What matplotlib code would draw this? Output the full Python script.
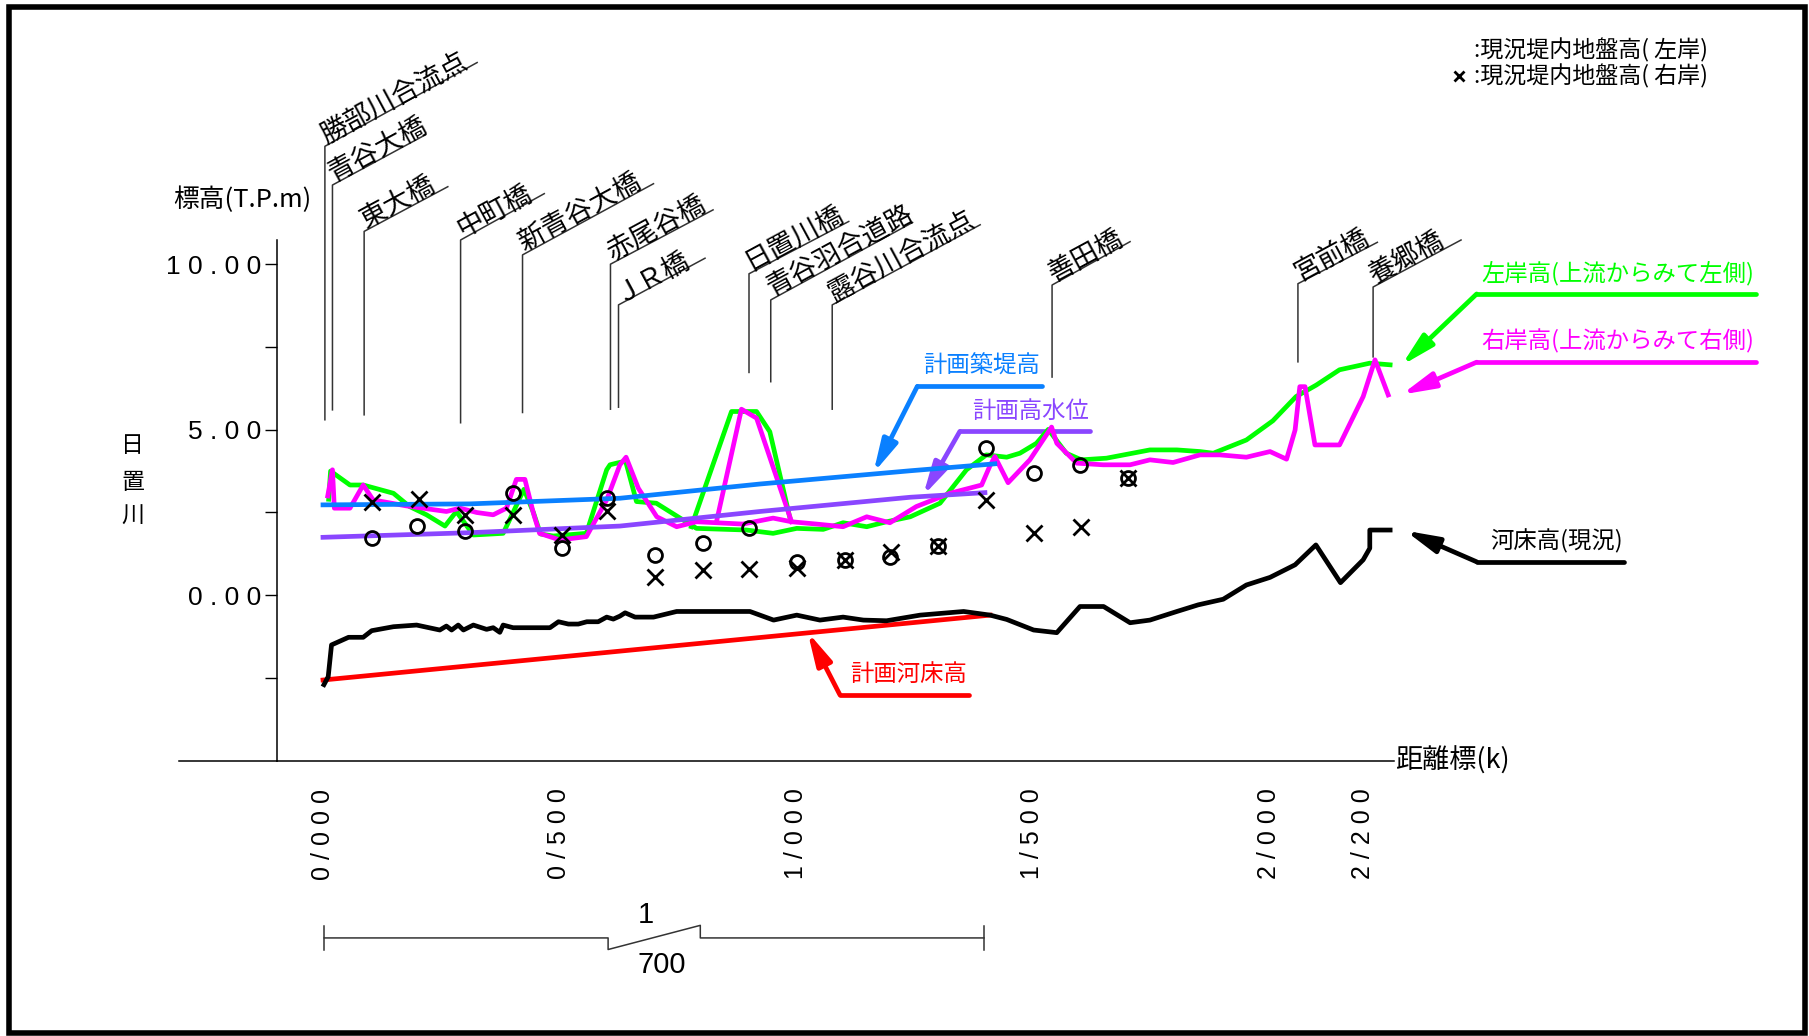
import matplotlib
matplotlib.use("Agg")
import matplotlib.pyplot as plt
from matplotlib.patches import Rectangle

plt.rcParams['font.family'] = ['Noto Sans CJK JP', 'DejaVu Sans']
NUM = ['Liberation Sans Narrow', 'Liberation Sans', 'DejaVu Sans']

# distance from 0/000 (m), elevation (T.P.m)
bed_dist = [2, 11, 18, 54, 85, 103, 149, 198, 247, 261, 272, 286, 297, 318, 346, 360, 374,
            381, 402, 480, 498, 519, 540, 558, 582, 600, 614, 628, 639, 660, 699, 748, 903,
            953, 1002, 1051, 1100, 1143, 1192, 1263, 1355, 1411, 1446, 1503, 1552, 1601,
            1651, 1707, 1749, 1806, 1851, 1904, 1953, 2003, 2056, 2100, 2152, 2200, 2214,
            2214, 2257]
bed_elev = [-2.70, -2.46, -1.50, -1.27, -1.27, -1.07, -0.95, -0.90, -1.05, -0.93, -1.05,
            -0.90, -1.05, -0.90, -1.03, -0.98, -1.12, -0.90, -0.98, -0.98, -0.80, -0.87,
            -0.87, -0.80, -0.80, -0.66, -0.72, -0.63, -0.53, -0.66, -0.66, -0.49, -0.49,
            -0.75, -0.60, -0.75, -0.66, -0.75, -0.77, -0.60, -0.49, -0.60, -0.73, -1.05,
            -1.13, -0.34, -0.34, -0.83, -0.75, -0.49, -0.29, -0.12, 0.31, 0.54, 0.92,
            1.52, 0.38, 1.07, 1.42, 1.97, 1.97]

plan_bed_dist = [0, 1411]
plan_bed_elev = [-2.56, -0.60]

levee_dist = [0, 311, 628, 924, 1242, 1421]
levee_elev = [2.73, 2.76, 2.93, 3.36, 3.76, 3.97]

hwl_dist = [0, 311, 628, 924, 1242, 1400]
hwl_elev = [1.75, 1.89, 2.09, 2.53, 2.96, 3.10]

left_dist = [12, 16, 57, 85, 149, 183, 219, 258, 282, 318, 381, 402, 425, 445, 460, 487,
             557, 600, 607, 621, 640, 663, 705, 790, 896, 952, 1002, 1058, 1100, 1150,
             1192, 1242, 1305, 1361, 1403, 1446, 1474, 1509, 1534, 1572, 1604, 1657, 1749,
             1806, 1855, 1883, 1953, 2009, 2058, 2101, 2150, 2214, 2257]
left_elev = [2.90, 3.75, 3.33, 3.33, 3.08, 2.68, 2.43, 2.09, 2.53, 1.82, 1.87, 2.50, 3.20,
             2.50, 1.85, 1.79, 1.87, 3.79, 3.94, 3.99, 4.05, 2.83, 2.78, 2.02, 1.97, 1.87,
             2.02, 1.99, 2.19, 2.07, 2.22, 2.37, 2.78, 3.79, 4.24, 4.17, 4.29, 4.59, 5.01,
             4.29, 4.09, 4.14, 4.39, 4.39, 4.34, 4.29, 4.69, 5.27, 6.00, 6.35, 6.81, 7.01,
             6.96]
left_spike_dist = [779, 864, 917, 945, 987]
left_spike_elev = [2.07, 5.55, 5.55, 4.94, 2.37]

right_dist = [10, 20, 24, 57, 85, 106, 176, 261, 290, 325, 360, 388, 409, 427, 445, 458,
              501, 557, 600, 628, 641, 667, 706, 748, 790, 888, 952, 991, 1044, 1100, 1150,
              1199, 1255, 1326, 1393, 1410, 1421, 1449, 1495, 1541, 1552, 1594, 1650, 1707,
              1749, 1798, 1855, 1897, 1953, 2003, 2038, 2056, 2066, 2077, 2098, 2150, 2200,
              2225, 2253]
right_elev = [3.00, 3.79, 2.63, 2.63, 3.33, 2.88, 2.70, 2.53, 2.63, 2.50, 2.43, 2.63, 3.50,
              3.50, 2.48, 1.87, 1.67, 1.77, 2.88, 3.94, 4.17, 3.23, 2.37, 2.07, 2.22, 2.15,
              2.33, 2.22, 2.15, 2.07, 2.37, 2.19, 2.68, 3.08, 3.33, 3.89, 4.19, 3.40, 4.09,
              5.08, 4.59, 3.99, 3.94, 3.94, 4.09, 4.01, 4.24, 4.24, 4.17, 4.34, 4.11, 4.99,
              6.30, 6.30, 4.54, 4.54, 6.00, 7.11, 6.05]
right_spike_dist = [833, 885, 917, 991]
right_spike_elev = [2.27, 5.62, 5.35, 2.22]

ground_left_dist = [103, 198, 300, 402, 505, 600, 702, 803, 900, 1002, 1104, 1199, 1301,
                    1402, 1504, 1601, 1703]
ground_left_elev = [1.72, 2.09, 1.94, 3.08, 1.42, 2.93, 1.22, 1.57, 2.02, 0.99, 1.05, 1.17,
                    1.49, 4.44, 3.69, 3.92, 3.53]
ground_right_dist = [103, 202, 300, 401, 505, 601, 702, 803, 902, 1002, 1104, 1202, 1301,
                     1402, 1504, 1603, 1703]
ground_right_elev = [2.83, 2.90, 2.43, 2.43, 1.82, 2.53, 0.56, 0.76, 0.79, 0.82, 1.07, 1.32,
                     1.49, 2.88, 1.89, 2.07, 3.53]

landmarks = ["勝部川合流点", "青谷大橋", "東大橋", "中町橋", "新青谷大橋", "赤尾谷橋", "ＪＲ橋",
             "日置川橋", "青谷羽合道路", "露谷川合流点", "善田橋", "宮前橋", "養郷橋"]
landmark_dist = [4, 20, 87, 291, 422, 608, 625, 901, 947, 1077, 1542, 2062, 2221]

xtick_pos = [0, 500, 1000, 1500, 2000, 2200]
xtick_labels = ["0 / 0 0 0", "0 / 5 0 0", "1 / 0 0 0", "1 / 5 0 0", "2 / 0 0 0", "2 / 2 0 0"]
ytick_pos = [0, 5, 10]
ytick_labels = ["0 . 0 0", "5 . 0 0", "1 0 . 0 0"]

GREEN = "#00ff00"
MAGENTA = "#ff00ff"
BLUE = "#0a80ff"
PURPLE = "#8a46ff"
RED = "#ff0000"

W, H = 1809, 1036
fig = plt.figure(figsize=(W / 100, H / 100), dpi=100)

# axes placed so that 1 m of distance = 0.4728 px, 1 m of height = 33.1 px
left_px, right_px, top_px, bot_px = 277, 1394, 240, 760.8
ax = fig.add_axes([left_px / W, 1 - bot_px / H, (right_px - left_px) / W, (bot_px - top_px) / H])
ax.set_xlim(-97.3, 2265.2)
ax.set_ylim(-5, 10.73)
for s in ["top", "right"]:
    ax.spines[s].set_visible(False)
ax.spines["left"].set_linewidth(1.1)
ax.spines["bottom"].set_linewidth(1.1)

ax.set_yticks(ytick_pos)
ax.set_yticklabels(ytick_labels, family=NUM, fontsize=19)
ax.set_yticks([-2.5, 2.5, 7.5], minor=True)
ax.tick_params(axis="y", which="both", length=9, width=1, pad=2)
ax.set_xticks(xtick_pos)
ax.set_xticklabels(xtick_labels, family=NUM, fontsize=18, rotation=90)
ax.tick_params(axis="x", length=0, pad=20)

# baseline continues to the left of the height axis
ax.plot([-305, -97.3], [-5, -5], color="black", lw=1.1, clip_on=False)

# profile lines
ax.plot(left_dist, left_elev, color=GREEN, lw=3.4, zorder=3)
ax.plot(left_spike_dist, left_spike_elev, color=GREEN, lw=3.4, zorder=3)
ax.plot(right_dist, right_elev, color=MAGENTA, lw=3.4, zorder=3.1)
ax.plot(right_spike_dist, right_spike_elev, color=MAGENTA, lw=3.4, zorder=3.1)
ax.plot(levee_dist, levee_elev, color=BLUE, lw=3.4, zorder=3.2)
ax.plot(hwl_dist, hwl_elev, color=PURPLE, lw=3.4, zorder=3.2)
ax.plot(plan_bed_dist, plan_bed_elev, color=RED, lw=3.4, zorder=3.2)
ax.plot(bed_dist, bed_elev, color="black", lw=3.4, zorder=3.3)

ax.plot(ground_left_dist, ground_left_elev, "o", ms=10, mfc="none", mec="black", mew=2,
        zorder=4)
ax.plot(ground_right_dist, ground_right_elev, "x", ms=11, mec="black", mew=2, zorder=4)

# landmark leaders
leader_bottom = [5.30, 5.60, 5.45, 5.21, 5.52, 5.62, 5.68, 6.73, 6.45, 5.62, 6.59, 7.05, 7.20]
leader_top = [13.56, 12.39, 10.99, 10.73, 10.28, 10.00, 8.77, 9.71, 8.92, 8.77, 9.37, 9.41, 9.31]
leader_end_d = [326, 217, 264, 468, 699, 825, 808, 1112, 1247, 1390, 1707, 2230, 2407]
leader_end_e = [16.09, 13.91, 12.34, 12.13, 12.43, 11.64, 10.18, 11.29, 11.26, 11.19, 10.68,
                10.66, 10.73]
for name, d, b, t, ed, ee in zip(landmarks, landmark_dist, leader_bottom, leader_top,
                                 leader_end_d, leader_end_e):
    ax.plot([d, d, ed], [b, t, ee], color="#333333", lw=1.1, clip_on=False)
    ax.annotate(name, xy=(d, t), xytext=(1, 2), textcoords="offset points", fontsize=19.5,
                rotation=28.4, rotation_mode="anchor", ha="left", va="baseline",
                annotation_clip=False)

# callouts
def callout(text, tip, x0, x1, y, color):
    ax.plot([x0, x1], [y, y], color=color, lw=3.4, solid_capstyle="round", clip_on=False)
    ax.annotate("", xy=tip, xytext=(x0, y), annotation_clip=False,
                arrowprops=dict(arrowstyle="-|>,head_length=0.9,head_width=0.22",
                                color=color, lw=3.4, shrinkA=0, shrinkB=0,
                                mutation_scale=22))
    ax.text(x1 - 3, y + 0.25, text, color=color, fontsize=16.8, ha="right", va="bottom")

callout("計画築堤高", (1164, 3.69), 1257, 1520, 6.31, BLUE)
callout("計画高水位", (1269, 3.00), 1347, 1623, 4.95, PURPLE)
callout("計画河床高", (1025, -1.11), 1093, 1366, -3.00, RED)
callout("左岸高(上流からみて左側)", (2281, 6.94), 2440, 3031, 9.10, GREEN)
callout("右岸高(上流からみて右側)", (2281, 6.06), 2440, 3031, 7.04, MAGENTA)
callout("河床高(現況)", (2289, 1.95), 2440, 2752, 1.01, "black")

# axis titles
ax.text(-171, 11.95, "標高(T.P.m)", fontsize=18.5, ha="center", va="center")
for ch, y in zip("日置川", [4.53, 3.42, 2.37]):
    ax.text(-402, y, ch, fontsize=16.5, ha="center", va="center")
ax.text(2268, -5, "距離標(k)", fontsize=19.5, ha="left", va="center")

# legend for ground heights
ax.text(2435, 16.45, ":現況堤内地盤高( 左岸)", fontsize=16.6, ha="left", va="center")
ax.text(2435, 15.69, ":現況堤内地盤高( 右岸)", fontsize=16.6, ha="left", va="center")
ax.plot([2403], [15.69], "x", ms=7, mec="black", mew=2, clip_on=False)

# scale note 1/700
ax.plot([2.5, 603, 603, 798, 798, 1398], [-10.35, -10.35, -10.70, -9.97, -10.35, -10.35],
        color="#333333", lw=1.1, clip_on=False)
ax.plot([2.5, 2.5], [-10.0, -10.70], color="#333333", lw=1.1, clip_on=False)
ax.plot([1398, 1398], [-10.0, -10.70], color="#333333", lw=1.1, clip_on=False)
ax.text(682, -9.66, "1", family=NUM, fontsize=21, ha="center", va="center")
ax.text(717, -11.17, "700", family=NUM, fontsize=21, ha="center", va="center")

# drawing frame
fig.patches.append(Rectangle((9 / W, 3 / H), 1796 / W, 1026 / H, transform=fig.transFigure,
                             fill=False, lw=4, edgecolor="black"))

fig.savefig("out.png", dpi=100)
